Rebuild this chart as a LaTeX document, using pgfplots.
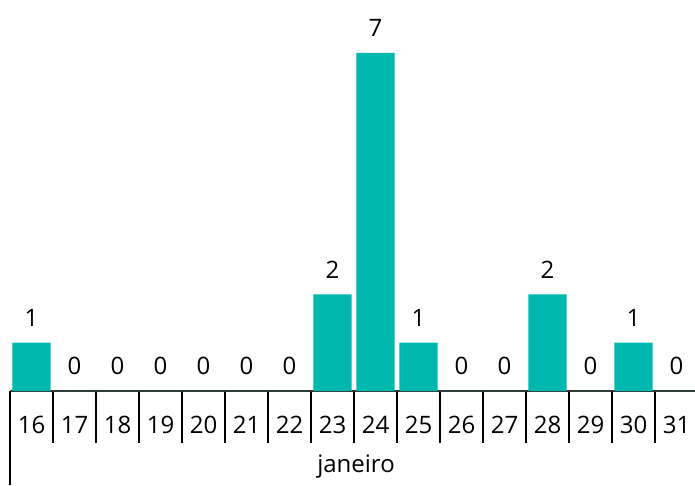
\documentclass[border=0pt]{standalone}
\usepackage{fontspec}
\setmainfont{Open Sans}
\usepackage{pgfplots}
\pgfplotsset{compat=1.18}
\definecolor{barteal}{RGB}{0,184,173}
\begin{document}
\fontsize{24}{28}\selectfont
\begin{tikzpicture}
\begin{axis}[
  scale only axis,
  width=688pt, height=391pt,
  xmin=-0.5, xmax=15.5,
  ymin=0, ymax=8.095,
  axis x line=bottom, axis y line=none,
  axis line style={-, line width=1.4pt, color=black!80},
  x axis line style={-},
  ybar, bar width=0.89,
  xtick={0,...,15},
  xticklabels={16,17,18,19,20,21,22,23,24,25,26,27,28,29,30,31},
  major tick length=0pt,
  minor xtick={0.5,1.5,...,14.5},
  minor tick length=52pt,
  tick align=outside,
  tick style={black, line width=1.2pt},
  extra x ticks={-0.5},
  extra x tick labels={},
  extra x tick style={major tick length=94pt, tick align=outside},
  xticklabel style={font=\fontsize{24}{28}\selectfont, anchor=center, yshift=-34pt},
  /pgf/number format/assume math mode=true,
  xlabel={janeiro},
  xlabel style={font=\fontsize{24}{28}\selectfont, at={(axis description cs:0.5,0)}, anchor=center, yshift=-76pt, xshift=2pt},
  nodes near coords,
  every node near coord/.append style={font=\fontsize{24}{28}\selectfont, anchor=center, yshift=25pt},
  clip=false,
]
\addplot[fill=barteal, draw=none] coordinates {
(0,1) (1,0) (2,0) (3,0) (4,0) (5,0) (6,0) (7,2) (8,7) (9,1) (10,0) (11,0) (12,2) (13,0) (14,1) (15,0)
};
\end{axis}
\pgfresetboundingbox
\path[use as bounding box] (current axis.south west) ++(-10pt,-94pt) rectangle ++(695pt,485pt);
\end{tikzpicture}
\end{document}
